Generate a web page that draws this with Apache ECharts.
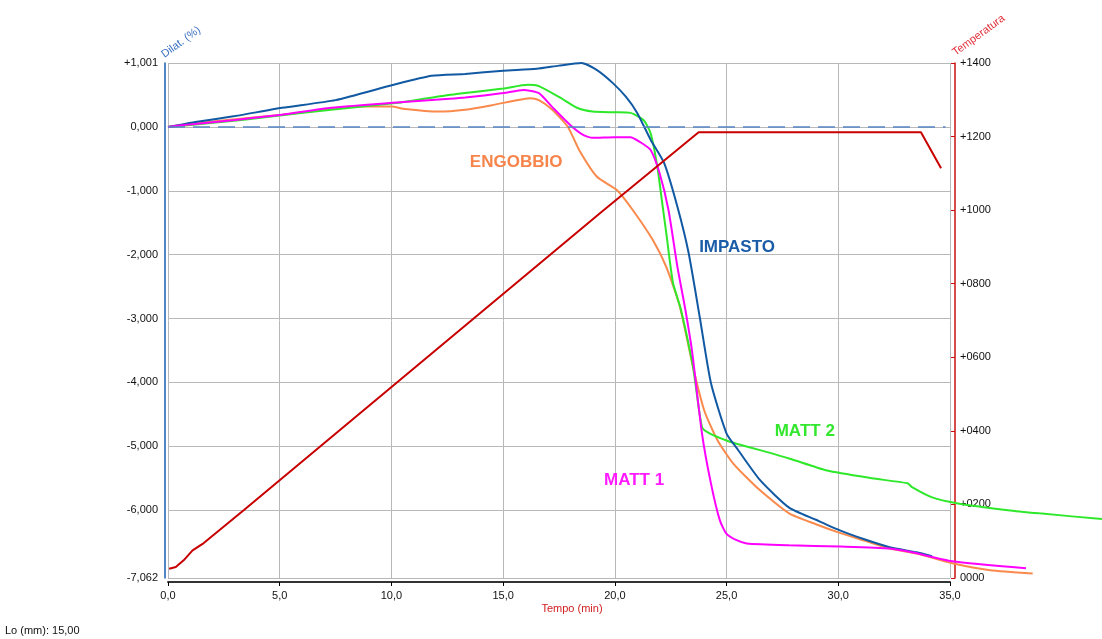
<!DOCTYPE html>
<html>
<head>
<meta charset="utf-8">
<script src="https://cdn.jsdelivr.net/npm/echarts@6/dist/echarts.min.js"></script>
<style>
html,body{margin:0;padding:0;background:#fff;}
#chart{width:1102px;height:639px;}
</style>
</head>
<body>
<div id="chart"></div>
<script>
// ---- data (time in min, dilatation in %, temperature in °C) ----
const impastoT = [0,0.5,1.3,3,5.1,7.5,10.1,11.8,13.3,15,16.5,17.5,18.5,19.2,19.9,20.5,21.0,21.6,22.2,22.8,23.3,23.8,24.3,25.0,25.5,26.5,27.8,29,30.1,31.2,32.3,33.5,34.2];
const impastoD = [0,0.03,0.08,0.17,0.30,0.42,0.66,0.80,0.83,0.88,0.91,0.96,1.0,0.89,0.69,0.47,0.22,-0.2,-0.56,-1.25,-1.97,-2.98,-4.01,-4.80,-5.05,-5.53,-5.96,-6.15,-6.32,-6.46,-6.58,-6.66,-6.72];

const engobbioT = [0,1,3,5.1,7,8.2,10.0,10.6,12.1,13.3,14.5,15.5,16.2,16.6,17.2,17.9,18.4,19.2,20.1,20.8,21.7,22.3,22.9,23.5,24.0,24.6,25.3,26.5,27.8,29,30.1,31.2,32.3,33.5,35.1,36.8,38.7];
const engobbioD = [0,0.05,0.12,0.19,0.27,0.32,0.32,0.28,0.24,0.27,0.34,0.41,0.45,0.42,0.27,0.0,-0.36,-0.78,-0.99,-1.3,-1.77,-2.19,-2.8,-3.76,-4.44,-4.91,-5.27,-5.69,-6.05,-6.22,-6.36,-6.48,-6.6,-6.68,-6.83,-6.94,-6.99];

const matt1T = [0,1,3,5.1,7.3,10.07,12.6,13.3,15,15.9,16.6,17.2,18.0,18.6,19.0,20.0,20.7,21.1,21.6,22.0,22.4,22.8,23.15,23.45,23.9,24.3,24.7,25.0,25.45,25.9,27.8,30.1,32.3,33.3,35.1,38.4];
const matt1D = [0,0.04,0.11,0.19,0.30,0.38,0.44,0.46,0.53,0.58,0.53,0.31,0.03,-0.13,-0.17,-0.16,-0.16,-0.23,-0.36,-0.72,-1.3,-2.19,-2.85,-3.5,-4.8,-5.58,-6.16,-6.37,-6.47,-6.52,-6.55,-6.57,-6.6,-6.66,-6.8,-6.91];

const matt2T = [0,1,3.3,5,7.3,10.3,11.6,13.0,15,16.1,16.6,17.5,18.3,19.0,20.0,20.7,21.3,21.6,21.9,22.1,22.3,22.6,22.95,23.5,23.9,24.26,25.0,25.45,26.5,27.8,29.5,31.5,33.1,33.3,34.2,35.3,37.6,39.0,41.8];
const matt2D = [0,0.03,0.11,0.18,0.27,0.38,0.45,0.52,0.60,0.66,0.64,0.47,0.30,0.24,0.23,0.22,0.10,-0.1,-0.62,-1.14,-1.66,-2.44,-2.85,-3.76,-4.7,-4.80,-4.91,-4.96,-5.06,-5.19,-5.38,-5.5,-5.58,-5.64,-5.8,-5.89,-6.0,-6.05,-6.14];

const tempT = [0.05,0.35,0.7,1.1,1.6,2.2,3.4,19.4,23.75,33.7,34.6];
const tempV = [25,30,48,75,95,125,185,995,1212,1212,1114];

const xTicks = [0,5,10,15,20,25,30,35];
const dilatTicks = [-7.062,-6,-5,-4,-3,-2,-1,0,1.001];
const tempTicks = [0,200,400,600,800,1000,1200,1400];

const curveLabels = [
  {text:'ENGOBBIO', t:15.58, d:-0.55, color:'#f7844a'},
  {text:'IMPASTO',  t:25.47, d:-1.88, color:'#1a5ca8'},
  {text:'MATT 2',   t:28.5,  d:-4.76, color:'#33e62e'},
  {text:'MATT 1',   t:20.86, d:-5.53, color:'#ff1aff'}
];

const zip = (a,b) => a.map((v,i)=>[v,b[i]]);
const FONT = 'Liberation Sans, Arial, sans-serif';

// plot geometry: the visible axes span 0..35 min; curves run past the right axis up to the page edge
const CHART_W = 1102;
const X_MAX = xTicks[xTicks.length-1];
const GRID_L = 168, GRID_T = 63, GRID_B = 61, GRID_W = 782;
const EXT_W = CHART_W - GRID_L;
const X_EXT = X_MAX * EXT_W / GRID_W;

const chart = echarts.init(document.getElementById('chart'), null, {renderer:'canvas'});

function lineSeries(name, data, color, yIdx){
  return {
    name, type:'line', data, xAxisIndex:1, yAxisIndex: yIdx,
    showSymbol:false, symbol:'none',
    smooth:0.2,
    lineStyle:{color, width:2},
    animation:false
  };
}

chart.setOption({
  animation:false,
  backgroundColor:'#fff',
  grid:[
    {left:GRID_L, top:GRID_T, bottom:GRID_B, width:GRID_W, containLabel:false},
    {left:GRID_L, top:GRID_T, bottom:GRID_B, width:EXT_W, containLabel:false}
  ],
  xAxis:[{
    type:'value', gridIndex:0, min:0, max:X_MAX, interval:5, offset:4,
    axisLine:{show:true, onZero:false, lineStyle:{color:'#333', width:2}},
    axisTick:{show:true, length:4, lineStyle:{color:'#000'}},
    axisLabel:{margin:8, color:'#111', fontFamily:FONT, fontSize:11,
      formatter:v=>v.toFixed(1).replace('.',',')},
    splitLine:{show:true, lineStyle:{color:'#b8b8b8', width:1}}
  },{
    type:'value', gridIndex:1, min:0, max:X_EXT, show:false
  }],
  yAxis:[{
    type:'value', gridIndex:0, min:dilatTicks[0], max:dilatTicks[dilatTicks.length-1], position:'left', offset:3,
    axisLine:{show:true, onZero:false, lineStyle:{color:'#1a5eb0', width:1.5}},
    axisTick:{show:false, customValues:dilatTicks},
    axisLabel:{customValues:dilatTicks, margin:7, color:'#111', fontFamily:FONT, fontSize:11,
      formatter:v=>{
        if (Math.abs(v-1.001)<1e-6) return '+1,001';
        if (Math.abs(v)<1e-9) return '0,000';
        return v.toFixed(3).replace('.',',');
      }},
    splitLine:{show:true, lineStyle:{color:'#b8b8b8', width:1}}
  },{
    type:'value', gridIndex:0, min:0, max:1400, interval:200, position:'right', offset:5,
    axisLine:{show:true, onZero:false, lineStyle:{color:'#cc1010', width:1.5}},
    axisTick:{show:true, inside:true, length:4, lineStyle:{color:'#cc1010'}},
    axisLabel:{margin:5, color:'#111', fontFamily:FONT, fontSize:11,
      formatter:v=> v===0 ? '0000' : '+' + String(v).padStart(4,'0')},
    splitLine:{show:false}
  },{
    type:'value', gridIndex:1, min:dilatTicks[0], max:dilatTicks[dilatTicks.length-1], show:false
  },{
    type:'value', gridIndex:1, min:tempTicks[0], max:tempTicks[tempTicks.length-1], show:false
  }],
  series:[
    Object.assign(lineSeries('ENGOBBIO', zip(engobbioT,engobbioD), '#f98a4c', 2), {
      markLine:{silent:true, symbol:'none', animation:false,
        lineStyle:{color:'#5585c4', width:1.5, type:[17,8]},
        label:{show:false},
        data:[[{coord:[0,0]},{coord:[34.8,0]}]]}
    }),
    lineSeries('MATT 2', zip(matt2T,matt2D), '#2ee82a', 2),
    lineSeries('IMPASTO', zip(impastoT,impastoD), '#1159a3', 2),
    lineSeries('MATT 1', zip(matt1T,matt1D), '#ff00ff', 2),
    Object.assign(lineSeries('Temperatura', zip(tempT,tempV), '#c80000', 3), {smooth:false})
  ]
});

const g = [
  {type:'text', x:166, y:60, rotation:36*Math.PI/180,
   style:{text:'Dilat. (%)', fill:'#3a6fc0', font:'11px '+FONT, textAlign:'left', textVerticalAlign:'bottom'}},
  {type:'text', x:957, y:58, rotation:36*Math.PI/180,
   style:{text:'Temperatura', fill:'#e0303a', font:'11px '+FONT, textAlign:'left', textVerticalAlign:'bottom'}},
  {type:'text', x:572, y:609,
   style:{text:'Tempo (min)', fill:'#d02020', font:'11px '+FONT, textAlign:'center', textVerticalAlign:'middle'}},
  {type:'text', x:5, y:631,
   style:{text:'Lo (mm): 15,00', fill:'#111', font:'11px '+FONT, textAlign:'left', textVerticalAlign:'middle'}}
];
curveLabels.forEach(l=>{
  const p = chart.convertToPixel({xAxisIndex:0, yAxisIndex:0}, [l.t, l.d]);
  g.push({type:'text', x:p[0], y:p[1],
    style:{text:l.text, fill:l.color, font:'bold 17px '+FONT, textAlign:'center', textVerticalAlign:'middle'}});
});
chart.setOption({graphic:g});
</script>
</body>
</html>
